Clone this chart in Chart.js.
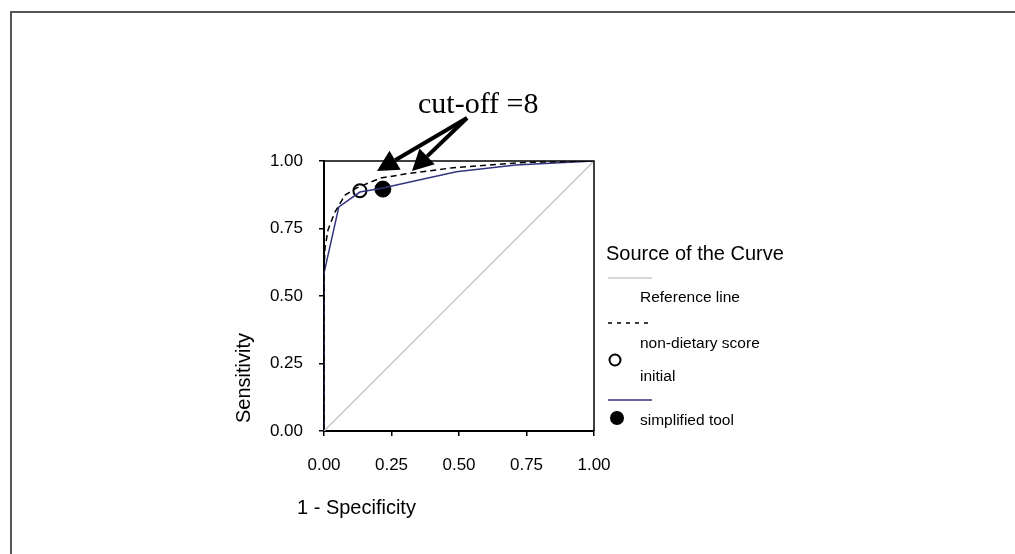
<!DOCTYPE html>
<html>
<head>
<meta charset="utf-8">
<script src="https://cdn.jsdelivr.net/npm/chart.js"></script>
<style>
  html, body { margin: 0; padding: 0; background: #fff; }
  #wrap { width: 1015px; height: 554px; position: relative; }
</style>
</head>
<body>
<div id="wrap"><canvas id="roc"></canvas></div>
<script>
// ROC data
const refFpr = [0, 1];
const refSens = [0, 1];

const nonDietFpr = [0, 0, 0.004, 0.015, 0.04, 0.078, 0.12, 0.21, 0.32, 0.47, 0.61, 0.75, 1];
const nonDietSens = [0, 0.6, 0.68, 0.745, 0.81, 0.874, 0.9, 0.937, 0.955, 0.974, 0.985, 0.995, 1];

const simpFpr = [0, 0, 0.055, 0.133, 0.218, 0.49, 0.71, 1];
const simpSens = [0, 0.585, 0.83, 0.885, 0.9, 0.96, 0.985, 1];

// cut-off = 8 points
const initialCut = [0.133, 0.89];
const simpCut = [0.218, 0.896];

const tickValues = [0, 0.25, 0.5, 0.75, 1];

const toPoints = (xs, ys) => xs.map((x, i) => ({ x: x, y: ys[i] }));

const SANS = "'Liberation Sans', Arial, sans-serif";
const SERIF = "'Liberation Serif', 'Times New Roman', serif";
const NAVY = "#33337f";

Chart.defaults.font.family = SANS;
Chart.defaults.color = "#000";

// frame, axis titles, legend and the cut-off note
const extras = {
    id: "extras",
    afterDraw(chart) {
        const ctx = chart.ctx;
        const a = chart.chartArea;
        ctx.save();

        // outer panel border
        ctx.strokeStyle = "#555";
        ctx.lineWidth = 2;
        ctx.beginPath();
        ctx.moveTo(11, 560);
        ctx.lineTo(11, 12);
        ctx.lineTo(1020, 12);
        ctx.stroke();

        // top and right edge of the plot box
        ctx.strokeStyle = "#000";
        ctx.lineWidth = 1.5;
        ctx.beginPath();
        ctx.moveTo(a.left, a.top);
        ctx.lineTo(a.right, a.top);
        ctx.lineTo(a.right, a.bottom);
        ctx.stroke();

        // axis titles
        ctx.fillStyle = "#000";
        ctx.font = "20px " + SANS;
        ctx.textAlign = "left";
        ctx.textBaseline = "middle";
        ctx.fillText("1 - Specificity", 297, 508);
        ctx.save();
        ctx.translate(244, 378);
        ctx.rotate(-Math.PI / 2);
        ctx.textAlign = "center";
        ctx.fillText("Sensitivity", 0, 0);
        ctx.restore();

        // legend
        ctx.font = "20px " + SANS;
        ctx.fillText("Source of the Curve", 606, 254);
        ctx.font = "15.5px " + SANS;
        ctx.fillText("Reference line", 640, 298);
        ctx.fillText("non-dietary score", 640, 344);
        ctx.fillText("initial", 640, 377);
        ctx.fillText("simplified tool", 640, 421);

        ctx.lineWidth = 1.5;
        ctx.strokeStyle = "#c8c8c8";
        ctx.beginPath(); ctx.moveTo(608, 278); ctx.lineTo(652, 278); ctx.stroke();

        ctx.strokeStyle = "#000";
        ctx.setLineDash([4, 5]);
        ctx.beginPath(); ctx.moveTo(608, 323); ctx.lineTo(652, 323); ctx.stroke();
        ctx.setLineDash([]);

        ctx.strokeStyle = NAVY;
        ctx.beginPath(); ctx.moveTo(608, 400); ctx.lineTo(652, 400); ctx.stroke();

        ctx.strokeStyle = "#000";
        ctx.lineWidth = 2;
        ctx.fillStyle = "#fff";
        ctx.beginPath(); ctx.arc(615, 360, 5.5, 0, Math.PI * 2); ctx.fill(); ctx.stroke();
        ctx.fillStyle = "#000";
        ctx.beginPath(); ctx.arc(617, 418, 7, 0, Math.PI * 2); ctx.fill();

        // cut-off annotation with two arrows
        ctx.font = "30px " + SERIF;
        ctx.textBaseline = "alphabetic";
        ctx.fillText("cut-off =8", 418, 113);

        const from = [467, 118];
        [[377, 171], [412, 171]].forEach(([tx, ty]) => {
            const ang = Math.atan2(ty - from[1], tx - from[0]);
            const headLen = 21, headW = 11;
            const bx = tx - headLen * Math.cos(ang);
            const by = ty - headLen * Math.sin(ang);
            ctx.strokeStyle = "#000";
            ctx.lineWidth = 4;
            ctx.beginPath();
            ctx.moveTo(from[0], from[1]);
            ctx.lineTo(bx, by);
            ctx.stroke();
            ctx.beginPath();
            ctx.moveTo(tx, ty);
            ctx.lineTo(bx + headW * Math.sin(ang), by - headW * Math.cos(ang));
            ctx.lineTo(bx - headW * Math.sin(ang), by + headW * Math.cos(ang));
            ctx.closePath();
            ctx.fill();
        });

        ctx.restore();
    },
};

document.addEventListener("DOMContentLoaded", () => {
    const ctx = document.getElementById("roc");
    new Chart(ctx, {
        type: "scatter",
        data: {
            datasets: [
                {
                    label: "Reference line",
                    data: toPoints(refFpr, refSens),
                    showLine: true,
                    borderColor: "#c8c8c8",
                    borderWidth: 1.5,
                    pointRadius: 0,
                },
                {
                    label: "non-dietary score",
                    data: toPoints(nonDietFpr, nonDietSens),
                    showLine: true,
                    borderColor: "#000",
                    borderWidth: 1.5,
                    borderDash: [6, 4],
                    pointRadius: 0,
                },
                {
                    label: "initial",
                    data: toPoints(simpFpr, simpSens),
                    showLine: true,
                    borderColor: NAVY,
                    borderWidth: 1.5,
                    pointRadius: 0,
                },
                {
                    label: "non-dietary cut-off",
                    data: [{ x: initialCut[0], y: initialCut[1] }],
                    pointRadius: 6.5,
                    pointBackgroundColor: "#fff",
                    pointBorderColor: "#000",
                    pointBorderWidth: 2,
                },
                {
                    label: "simplified tool",
                    data: [{ x: simpCut[0], y: simpCut[1] }],
                    pointRadius: 8,
                    pointBackgroundColor: "#000",
                    pointBorderColor: "#000",
                    pointBorderWidth: 1,
                },
            ],
        },
        options: {
            responsive: true,
            maintainAspectRatio: false,
            animation: false,
            events: [],
            layout: {
                padding: { left: 234, right: 421, top: 161, bottom: 0 },
            },
            plugins: {
                legend: { display: false },
                title: { display: false },
                tooltip: { enabled: false },
            },
            scales: {
                x: {
                    type: "linear",
                    min: 0,
                    max: 1,
                    afterBuildTicks: (s) => { s.ticks = tickValues.map((v) => ({ value: v })); },
                    afterFit: (s) => { s.height = 123; },
                    ticks: {
                        padding: 19,
                        font: { size: 17 },
                        callback: (v) => Number(v).toFixed(2),
                    },
                    grid: { drawOnChartArea: false, tickLength: 5, color: "#000", lineWidth: 1.5 },
                    border: { display: true, color: "#000", width: 2 },
                },
                y: {
                    type: "linear",
                    min: 0,
                    max: 1,
                    afterBuildTicks: (s) => { s.ticks = tickValues.map((v) => ({ value: v })); },
                    afterFit: (s) => { s.width = 90; },
                    ticks: {
                        padding: 16,
                        font: { size: 17 },
                        callback: (v) => Number(v).toFixed(2),
                    },
                    grid: { drawOnChartArea: false, tickLength: 5, color: "#000", lineWidth: 1.5 },
                    border: { display: true, color: "#000", width: 2 },
                },
            },
        },
        plugins: [extras],
    });
});
</script>
</body>
</html>
